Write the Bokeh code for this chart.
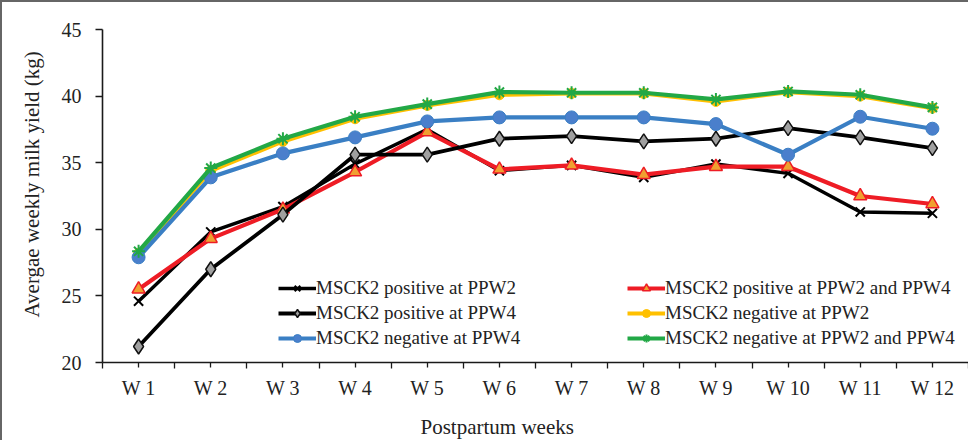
from bokeh.plotting import figure
from bokeh.models import Range1d, FixedTicker, Legend, LegendItem, Title
from bokeh.embed import file_html
from bokeh.resources import INLINE

weeks = ["W 1", "W 2", "W 3", "W 4", "W 5", "W 6", "W 7", "W 8", "W 9", "W 10", "W 11", "W 12"]
pos_ppw2 = [24.6, 29.8, 31.7, 34.9, 37.5, 34.4, 34.8, 33.9, 34.9, 34.2, 31.3, 31.2]
pos_both = [25.5, 29.3, 31.5, 34.3, 37.3, 34.5, 34.8, 34.1, 34.7, 34.7, 32.5, 31.9]
pos_ppw4 = [21.2, 27.0, 31.1, 35.6, 35.6, 36.8, 37.0, 36.6, 36.8, 37.6, 36.9, 36.1]
neg_ppw2 = [28.2, 34.4, 36.6, 38.3, 39.3, 40.1, 40.2, 40.2, 39.6, 40.3, 40.0, 39.1]
neg_ppw4 = [27.9, 33.9, 35.7, 36.9, 38.1, 38.4, 38.4, 38.4, 37.9, 35.6, 38.45, 37.55]
neg_both = [28.35, 34.6, 36.8, 38.45, 39.4, 40.3, 40.25, 40.25, 39.75, 40.35, 40.1, 39.15]
y_ticks = [20, 25, 30, 35, 40, 45]

FONT = "Liberation Serif"
xs = list(range(1, len(weeks) + 1))

p = figure(width=968, height=440, output_backend="svg", toolbar_location=None,
           x_range=Range1d(0.5, len(weeks) + 0.5), y_range=Range1d(20, 45),
           min_border_left=98, min_border_right=2, min_border_top=27, min_border_bottom=80)
p.outline_line_color = None
p.xgrid.visible = False
p.ygrid.visible = False
p.background_fill_color = "white"
p.border_fill_color = "white"
p.styles = {"border-left": "2px solid #666666", "border-top": "2px solid #666666"}

# axes
p.xaxis.ticker = FixedTicker(ticks=xs, minor_ticks=[x - 0.5 for x in xs] + [len(weeks) + 0.5])
p.xaxis.major_label_overrides = {x: w for x, w in zip(xs, weeks)}
p.yaxis.ticker = FixedTicker(ticks=y_ticks, minor_ticks=[])
for ax in (p.xaxis, p.yaxis):
    ax.axis_line_color = "#1a1a1a"
    ax.axis_line_width = 1.6
    ax.major_tick_line_color = "#1a1a1a"
    ax.major_tick_line_width = 1.3
    ax.minor_tick_line_color = "#1a1a1a"
    ax.minor_tick_line_width = 1.3
    ax.major_tick_in = 0
    ax.minor_tick_in = 0
    ax.major_label_text_font = FONT
    ax.major_label_text_font_size = "20px"
    ax.major_label_text_color = "#222222"
p.xaxis.major_tick_out = 5
p.xaxis.minor_tick_out = 6
p.xaxis.major_label_standoff = 8
# invisible spacer label to push the title lower
p.xaxis.axis_label = "\u00a0"
p.xaxis.axis_label_text_font_size = "1px"
p.xaxis.axis_label_standoff = 7
p.yaxis.major_tick_out = 7
p.yaxis.minor_tick_out = 0
p.yaxis.major_label_standoff = 14

# series
series = [
    ("MSCK2 positive at PPW2", pos_ppw2, "#000000", 3.4, "x", 13, "#000000", "#000000", 2.0),
    ("MSCK2 positive at PPW2 and PPW4", pos_both, "#ee1c25", 4.2, "triangle", 13, "#f0a030", "#ee1c25", 1.5),
    ("MSCK2 positive at PPW4", pos_ppw4, "#000000", 3.8, "diamond", 15, "#a0a0a0", "#111111", 1.5),
    ("MSCK2 negative at PPW2", neg_ppw2, "#ffc000", 4.2, "circle", 10, "#ffc000", "#ffc000", 1.0),
    ("MSCK2 negative at PPW4", neg_ppw4, "#3a7fc4", 4.2, "circle", 13, "#4a7fcc", "#3a7fc4", 1.0),
    ("MSCK2 negative at PPW2 and PPW4", neg_both, "#22a846", 4.2, "asterisk", 13, "#22a846", "#22a846", 2.0),
]
items = []
for name, ys, lc, lw, mk, ms, fc, mlc, mlw in series:
    ln = p.line(xs, ys, line_color=lc, line_width=lw, line_join="round")
    sc = p.scatter(xs, ys, marker=mk, size=ms, fill_color=fc, line_color=mlc, line_width=mlw)
    items.append(LegendItem(label=name, renderers=[ln, sc]))

def make_legend(its, x):
    return Legend(items=its, location=(x, 13), orientation="vertical",
                  label_text_font=FONT, label_text_font_size="19px", label_text_color="#222222",
                  glyph_width=38, glyph_height=20, label_height=20, label_standoff=0,
                  spacing=3, padding=0, margin=0,
                  background_fill_alpha=0, border_line_color=None)

p.add_layout(make_legend([items[0], items[2], items[4]], 176))
p.add_layout(make_legend([items[1], items[3], items[5]], 525))

p.add_layout(Title(text="Postpartum weeks", align="left", offset=318, standoff=0,
                   text_font=FONT, text_font_size="21px", text_font_style="normal",
                   text_color="#222222"), "below")
p.add_layout(Title(text="Avergae weekly milk yield (kg)", align="left", offset=45, standoff=30,
                   text_font=FONT, text_font_size="21px", text_font_style="normal",
                   text_color="#222222"), "left")

open("out.html", "w").write(file_html(p, INLINE))
